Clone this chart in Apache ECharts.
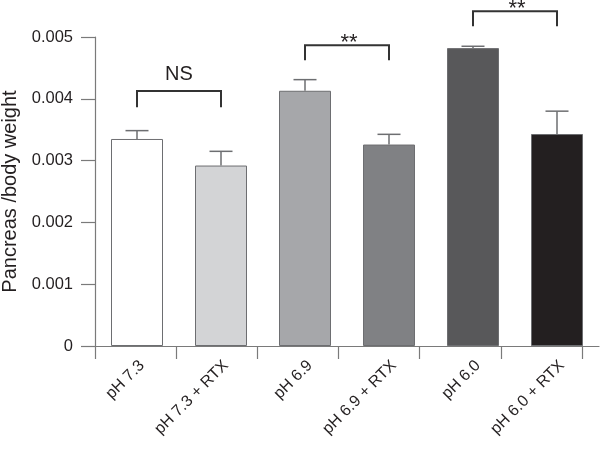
<!DOCTYPE html>
<html>
<head>
<meta charset="utf-8">
<script src="https://cdn.jsdelivr.net/npm/echarts@6/dist/echarts.min.js"></script>
<style>
  html, body { margin: 0; padding: 0; background: #fff; }
  #chart { width: 600px; height: 449px; }
</style>
</head>
<body>
<div id="chart"></div>
<script>
// data
var categories = ['pH 7.3', 'pH 7.3 + RTX', 'pH 6.9', 'pH 6.9 + RTX', 'pH 6.0', 'pH 6.0 + RTX'];
var means = [0.00335, 0.00292, 0.00413, 0.00326, 0.00482, 0.00343];
var errTops = [0.003485, 0.00315, 0.00431, 0.003425, 0.00485, 0.0038];
var barColors = ['#ffffff', '#d3d4d6', '#a6a7aa', '#808184', '#58585a', '#231f20'];
var yTickLabels = ['0', '0.001', '0.002', '0.003', '0.004', '0.005'];

// significance brackets: from bar, to bar, top of bracket, bottom of legs, text
var bracketFrom = [0, 2, 4];
var bracketTo = [1, 3, 5];
var bracketTop = [0.004128, 0.004867, 0.005418];
var bracketLeg = [0.003862, 0.004624, 0.005175];
var bracketText = ['NS', '**', '**'];

var FONT = '"Liberation Sans", Arial, sans-serif';
var TEXT = '#231f20';
var AXIS = '#7a7a7a';

var chart = echarts.init(document.getElementById('chart'));

var errData = means.map(function (m, i) { return [i, m, errTops[i]]; });
var bracketData = bracketFrom.map(function (f, i) {
  return [f, bracketTo[i], bracketTop[i], bracketLeg[i], bracketText[i]];
});

chart.setOption({
  animation: false,
  backgroundColor: '#fff',
  grid: [
    { left: 95, right: 1, top: 37, bottom: 103, outerBoundsMode: 'none' },
    { left: 95, right: 18, top: 37, bottom: 103, outerBoundsMode: 'none' }
  ],
  xAxis: [
    {
      type: 'category',
      data: categories,
      gridIndex: 0,
      position: 'bottom',
      axisLine: { show: true, lineStyle: { color: AXIS, width: 1.2 } },
      axisTick: { show: false },
      axisLabel: {
        rotate: 45, margin: 22, fontSize: 16, color: TEXT, fontFamily: FONT, interval: 0,
        padding: [0, -7, 0, 0]
      },
      splitLine: { show: false }
    },
    {
      // tick marks of the original sit on their own spacing
      type: 'value',
      gridIndex: 1,
      position: 'bottom',
      min: 0, max: 6, interval: 1,
      axisLine: { show: false },
      axisTick: { show: true, length: 13, lineStyle: { color: AXIS, width: 1.2 } },
      axisLabel: { show: false },
      splitLine: { show: false }
    }
  ],
  yAxis: [
    {
      type: 'value',
      gridIndex: 0,
      min: 0, max: 0.005, interval: 0.001,
      name: 'Pancreas /body weight',
      nameLocation: 'middle',
      nameGap: 75,
      nameTextStyle: { fontSize: 20, color: TEXT, fontFamily: FONT },
      axisLine: { show: true, lineStyle: { color: AXIS, width: 1.2 } },
      axisTick: { show: true, length: 14, lineStyle: { color: AXIS, width: 1.2 } },
      axisLabel: {
        margin: 22, fontSize: 16.5, color: TEXT, fontFamily: FONT,
        formatter: function (v, idx) { return yTickLabels[idx]; }
      },
      splitLine: { show: false }
    },
    { type: 'value', gridIndex: 1, show: false, min: 0, max: 1 }
  ],
  series: [
    {
      type: 'bar',
      xAxisIndex: 0, yAxisIndex: 0,
      barWidth: 52,
      data: means.map(function (m, i) {
        return {
          value: m,
          itemStyle: { color: barColors[i], borderColor: '#6d6e71', borderWidth: 1 }
        };
      }),
      z: 2
    },
    {
      type: 'custom',
      xAxisIndex: 0, yAxisIndex: 0,
      data: errData,
      z: 3,
      renderItem: function (params, api) {
        var b = api.coord([api.value(0), api.value(1)]);
        var t = api.coord([api.value(0), api.value(2)]);
        var half = 11.5;
        var style = { stroke: '#6d6e71', lineWidth: 1.5 };
        return {
          type: 'group',
          children: [
            { type: 'line', shape: { x1: b[0], y1: b[1], x2: t[0], y2: t[1] }, style: style },
            { type: 'line', shape: { x1: t[0] - half, y1: t[1], x2: t[0] + half, y2: t[1] }, style: style }
          ]
        };
      }
    },
    {
      type: 'custom',
      xAxisIndex: 0, yAxisIndex: 0,
      data: bracketData,
      clip: false,
      z: 4,
      renderItem: function (params, api) {
        var label = bracketText[params.dataIndex];
        var l = api.coord([api.value(0), api.value(2)]);
        var r = api.coord([api.value(1), api.value(2)]);
        var lb = api.coord([api.value(0), api.value(3)]);
        var style = { stroke: '#333333', lineWidth: 2, fill: null };
        var isNS = label === 'NS';
        return {
          type: 'group',
          children: [
            {
              type: 'polyline',
              shape: { points: [[l[0], lb[1]], [l[0], l[1]], [r[0], r[1]], [r[0], lb[1]]] },
              style: style
            },
            {
              type: 'text',
              x: (l[0] + r[0]) / 2 + (isNS ? 0 : 2),
              y: l[1] - (isNS ? 16 : 2),
              style: {
                text: label,
                fill: TEXT,
                fontFamily: FONT,
                fontSize: isNS ? 20 : 22,
                align: 'center',
                verticalAlign: 'middle'
              }
            }
          ]
        };
      }
    }
  ]
});
</script>
</body>
</html>
